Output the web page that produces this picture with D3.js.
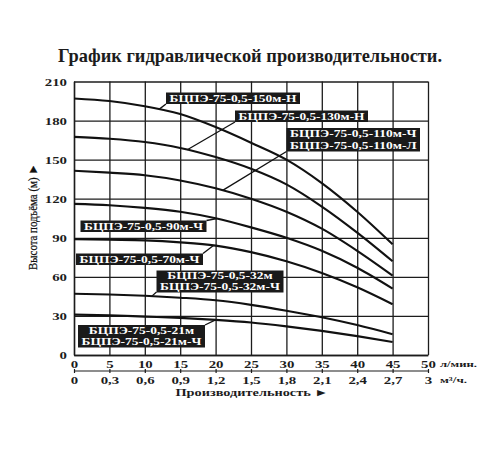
<!DOCTYPE html>
<html><head><meta charset="utf-8">
<script src="https://cdn.jsdelivr.net/npm/d3@7"></script>
<style>body{margin:0;background:#fff}</style>
</head><body><svg id="c" width="500" height="450"></svg>
<script>
// ---- data ----
const flow = [0, 5, 10, 15, 20, 25, 30, 35, 40, 45];
const head150 = [197, 195, 191, 185, 175, 163, 150, 132, 110, 85];
const head130 = [167.5, 166, 163.5, 159, 152, 143, 131, 114, 94, 72];
const head110 = [141.5, 140, 138, 134, 128, 120, 110, 97, 80, 61];
const head90  = [116, 115, 113, 110, 105, 98, 90, 80, 67, 51];
const head70  = [89, 88.5, 88, 86.5, 84, 79, 72, 63, 52, 39];
const head32  = [47, 46.5, 45.5, 44, 42, 38.5, 34, 29, 23, 16];
const head21  = [31, 30.5, 29.5, 28.5, 27, 25, 22, 18.5, 14.5, 10];
const seriesHeads = [head150, head130, head110, head90, head70, head32, head21];
const seriesLabels = [
  ["БЦПЭ-75-0,5-150м-Н"],
  ["БЦПЭ-75-0,5-130м-Н"],
  ["БЦПЭ-75-0,5-110м-Ч", "БЦПЭ-75-0,5-110м-Л"],
  ["БЦПЭ-75-0,5-90м-Ч"],
  ["БЦПЭ-75-0,5-70м-Ч"],
  ["БЦПЭ-75-0,5-32м", "БЦПЭ-75-0,5-32м-Ч"],
  ["БЦПЭ-75-0,5-21м", "БЦПЭ-75-0,5-21м-Ч"]
];
const xTicksLmin = [0, 5, 10, 15, 20, 25, 30, 35, 40, 45, 50];
const xTicksM3 = ["0", "0,3", "0,6", "0,9", "1,2", "1,5", "1,8", "2,1", "2,4", "2,7", "3"];
const yTicks = [0, 30, 60, 90, 120, 150, 180, 210];
const titleText = "График гидравлической производительности.";
const yTitle = "Высота подъёма (м) ►";
const xTitle = "Производительность ►";
const unitLmin = "л/мин.";
const unitM3 = "м³/ч.";

// ---- layout ----
const FONT = "'Liberation Serif','Times New Roman',serif";
const INK = "#1c1c1c";
const svg = d3.select("#c");
const x = d3.scaleLinear().domain([0, 50]).range([74, 428]);
const y = d3.scaleLinear().domain([0, 210]).range([355, 81.5]);
const xm3 = d3.scalePoint().domain(xTicksM3).range([74, 428]);

svg.append("rect").attr("width", 500).attr("height", 450).attr("fill", "#fff");

// title
svg.append("text").text(titleText)
  .attr("x", 250).attr("y", 62).attr("text-anchor", "middle")
  .attr("font-family", FONT).attr("font-weight", "bold").attr("font-size", 19)
  .attr("fill", INK).attr("textLength", 384).attr("lengthAdjust", "spacingAndGlyphs");

// grid: horizontal (y axis)
const gy = svg.append("g").attr("transform", `translate(${x(0)},0)`)
  .call(d3.axisLeft(y).tickValues(yTicks).tickSize(-(x(50) - x(0))).tickSizeOuter(0));
gy.select(".domain").attr("stroke", INK).attr("stroke-width", 1.4);
gy.selectAll(".tick line").attr("stroke", INK).attr("stroke-width", 1.3);
gy.selectAll(".tick text")
  .attr("x", null).attr("dy", "0.35em")
  .attr("transform", "translate(-7,0) scale(1.35,1)")
  .attr("text-anchor", "end")
  .attr("font-family", FONT).attr("font-weight", "bold").attr("font-size", 11).attr("fill", INK);

// grid: vertical (x axis, л/мин)
const gx = svg.append("g").attr("transform", `translate(0,${y(0)})`)
  .call(d3.axisBottom(x).tickValues(xTicksLmin).tickSize(-(y(0) - y(210))).tickSizeOuter(0));
gx.select(".domain").attr("stroke", INK).attr("stroke-width", 1.4);
gx.selectAll(".tick line").attr("stroke", INK).attr("stroke-width", 1.3);
gx.selectAll(".tick text")
  .attr("y", null).attr("dy", null)
  .attr("transform", "translate(0,13) scale(1.35,1)")
  .attr("text-anchor", "middle")
  .attr("font-family", FONT).attr("font-weight", "bold").attr("font-size", 11).attr("fill", INK);

// second scale (м³/ч)
svg.append("line").attr("x1", x(0)).attr("x2", x(50)).attr("y1", 371).attr("y2", 371)
  .attr("stroke", INK).attr("stroke-width", 1.2);
const gm = svg.append("g").attr("transform", "translate(0,369)")
  .call(d3.axisBottom(xm3).tickSize(4).tickSizeOuter(0));
gm.select(".domain").remove();
gm.selectAll(".tick line").attr("stroke", INK).attr("stroke-width", 1.2);
gm.selectAll(".tick text")
  .attr("y", null).attr("dy", null)
  .attr("transform", "translate(0,14.5) scale(1.35,1)")
  .attr("text-anchor", "middle")
  .attr("font-family", FONT).attr("font-weight", "bold").attr("font-size", 11).attr("fill", INK);

// units
svg.append("text").text(unitLmin).attr("x", 440).attr("y", 367)
  .attr("font-family", FONT).attr("font-weight", "bold").attr("font-size", 8.5).attr("fill", INK)
  .attr("textLength", 37).attr("lengthAdjust", "spacingAndGlyphs");
svg.append("text").text(unitM3).attr("x", 440).attr("y", 383)
  .attr("font-family", FONT).attr("font-weight", "bold").attr("font-size", 8.5).attr("fill", INK)
  .attr("textLength", 27).attr("lengthAdjust", "spacingAndGlyphs");

// axis titles
svg.append("text").text(xTitle).attr("x", 252).attr("y", 396).attr("text-anchor", "middle")
  .attr("font-family", FONT).attr("font-weight", "bold").attr("font-size", 10.5).attr("fill", INK)
  .attr("textLength", 153).attr("lengthAdjust", "spacingAndGlyphs");
svg.append("text").text(yTitle)
  .attr("transform", "translate(37,217) rotate(-90)").attr("text-anchor", "middle")
  .attr("font-family", FONT).attr("font-size", 12.5).attr("fill", "#111")
  .attr("stroke", "#111").attr("stroke-width", 0.25)
  .attr("textLength", 106).attr("lengthAdjust", "spacingAndGlyphs");

// curves
const line = d3.line().x(d => x(d[0])).y(d => y(d[1])).curve(d3.curveMonotoneX);
seriesHeads.forEach(h => {
  svg.append("path").datum(flow.map((f, i) => [f, h[i]]))
    .attr("d", line).attr("fill", "none").attr("stroke", "#111").attr("stroke-width", 2.1);
});

// labels with leader lines
function headAt(h, f) {
  const i = Math.min(flow.length - 2, Math.floor(f / 5));
  const t = (f - flow[i]) / (flow[i + 1] - flow[i]);
  return h[i] + (h[i + 1] - h[i]) * t;
}
const boxes = [
  {bx: 166, by: 92.5, w: 134, h: 11.5, at: 12, ax: 166, ay: 104},
  {bx: 235, by: 110.5, w: 133, h: 11.5, at: 16, ax: 235, ay: 122},
  {bx: 286.5, by: 128, w: 133.5, h: 23.5, at: 21, ax: 286.5, ay: 151.5},
  {bx: 80.5, by: 220.5, w: 126, h: 11.5, at: 20.2, ax: 206.5, ay: 220.5},
  {bx: 76, by: 253.5, w: 127, h: 11.5, at: 19.7, ax: 203, ay: 253.5},
  {bx: 156.5, by: 270.5, w: 127, h: 22, at: 11, ax: 156.5, ay: 292},
  {bx: 78, by: 325, w: 127, h: 22.5, at: 20, ax: 205, ay: 325}
];
boxes.forEach((b, k) => {
  const h = seriesHeads[k];
  svg.append("line").attr("x1", b.ax).attr("y1", b.ay)
    .attr("x2", x(b.at)).attr("y2", y(headAt(h, b.at)))
    .attr("stroke", "#111").attr("stroke-width", 1.3);
  svg.append("rect").attr("x", b.bx).attr("y", b.by).attr("width", b.w).attr("height", b.h)
    .attr("fill", "#1a1a1a");
  const lines = seriesLabels[k];
  const lh = b.h / lines.length;
  const fs = lines.length > 1 ? 9.5 : 10.5;
  const texts = lines.map((s, j) => svg.append("text").text(s)
    .attr("text-anchor", "middle")
    .attr("font-family", FONT).attr("font-weight", "bold").attr("font-size", fs)
    .attr("fill", "#fff"));
  const maxW = d3.max(texts, t => t.node().getComputedTextLength());
  const sx = (b.w - 7) / maxW;
  texts.forEach((t, j) => {
    const cy = b.by + lh * j + lh / 2 + fs * 0.34;
    t.attr("transform", `translate(${b.bx + b.w / 2},${cy}) scale(${sx},1)`);
  });
});
</script></body></html>
